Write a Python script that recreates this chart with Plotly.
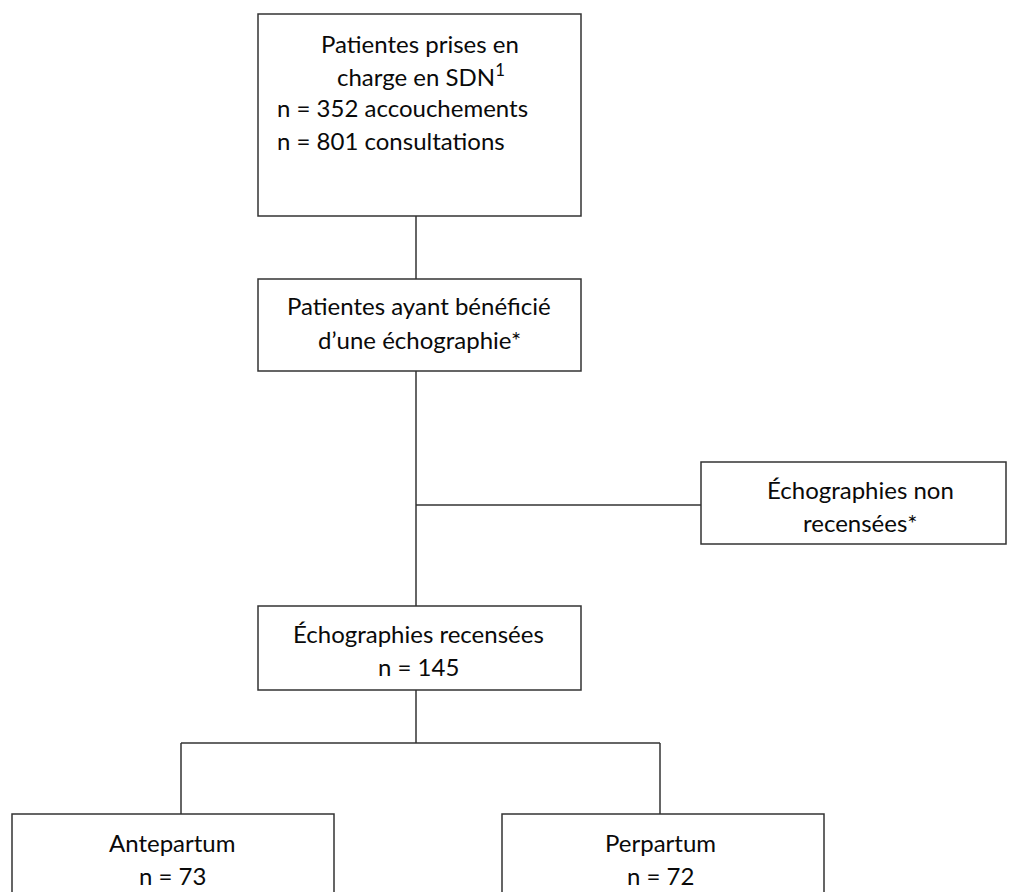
import plotly.graph_objects as go

# ---- data (texts / counts) ----
box_titles = [
    "Patientes prises en<br>charge en SDN<sup>1</sup>",
    "Patientes ayant bénéficié<br>d’une échographie*",
    "Échographies non<br>recensées*",
    "Échographies recensées",
    "Antepartum",
    "Perpartum",
]
accouchements = 352
consultations = 801
recensees_n = 145
antepartum_n = 73
perpartum_n = 72

# ---- layout geometry (pixels, y downward) ----
W, H = 1014, 892
boxes = [  # x0, y0, x1, y1
    (258, 14, 581, 216),
    (258, 279, 581, 371),
    (701, 462, 1006, 544),
    (258, 606, 581, 690),
    (12, 814, 334, 940),
    (502, 814, 824, 940),
]
connectors = [
    ((416, 216), (416, 279)),
    ((416, 371), (416, 606)),
    ((416, 505), (701, 505)),
    ((416, 690), (416, 743)),
    ((181, 743), (660, 743)),
    ((181, 743), (181, 814)),
    ((660, 743), (660, 814)),
]

line_col = "#333333"
txt_col = "#0a0a0a"
FONT = "Lato"
FS = 24

fig = go.Figure()

for (x0, y0, x1, y1) in boxes:
    fig.add_shape(type="rect", x0=x0, y0=y0, x1=x1, y1=y1, xref="x", yref="y",
                  line=dict(color=line_col, width=1.5), fillcolor="rgba(0,0,0,0)")
for (p, q) in connectors:
    fig.add_shape(type="line", x0=p[0], y0=p[1], x1=q[0], y1=q[1], xref="x", yref="y",
                  line=dict(color=line_col, width=1.5))

def txt(x, y, s, anchor="center"):
    fig.add_annotation(x=x, y=y, xref="x", yref="y", text=s, showarrow=False,
                       xanchor=anchor, yanchor="middle", align=anchor if anchor != "center" else "center",
                       font=dict(family=FONT, size=FS, color=txt_col))

t1 = box_titles[0].split("<br>")
txt(420, 43, t1[0])
txt(421, 75, t1[1])
txt(275, 107, f"n = {accouchements} accouchements", "left")
txt(275, 140, f"n = {consultations} consultations", "left")

t2 = box_titles[1].split("<br>")
txt(419, 305, t2[0])
txt(419, 339, t2[1])

t3 = box_titles[2].split("<br>")
txt(860, 489, t3[0])
txt(860, 522, t3[1])

txt(418, 633, box_titles[3])
txt(418, 666, f"n = {recensees_n}")

txt(172, 842, box_titles[4])
txt(172, 875, f"n = {antepartum_n}")
txt(660, 842, box_titles[5])
txt(660, 875, f"n = {perpartum_n}")

fig.update_xaxes(range=[0, W], visible=False, fixedrange=True)
fig.update_yaxes(range=[H, 0], visible=False, fixedrange=True)
fig.update_layout(width=W, height=H, margin=dict(l=0, r=0, t=0, b=0),
                  plot_bgcolor="white", paper_bgcolor="white", showlegend=False)

fig.write_html("out.html", config={"displayModeBar": False},
               post_script="document.body.style.margin='0';document.body.style.overflow='hidden';")
